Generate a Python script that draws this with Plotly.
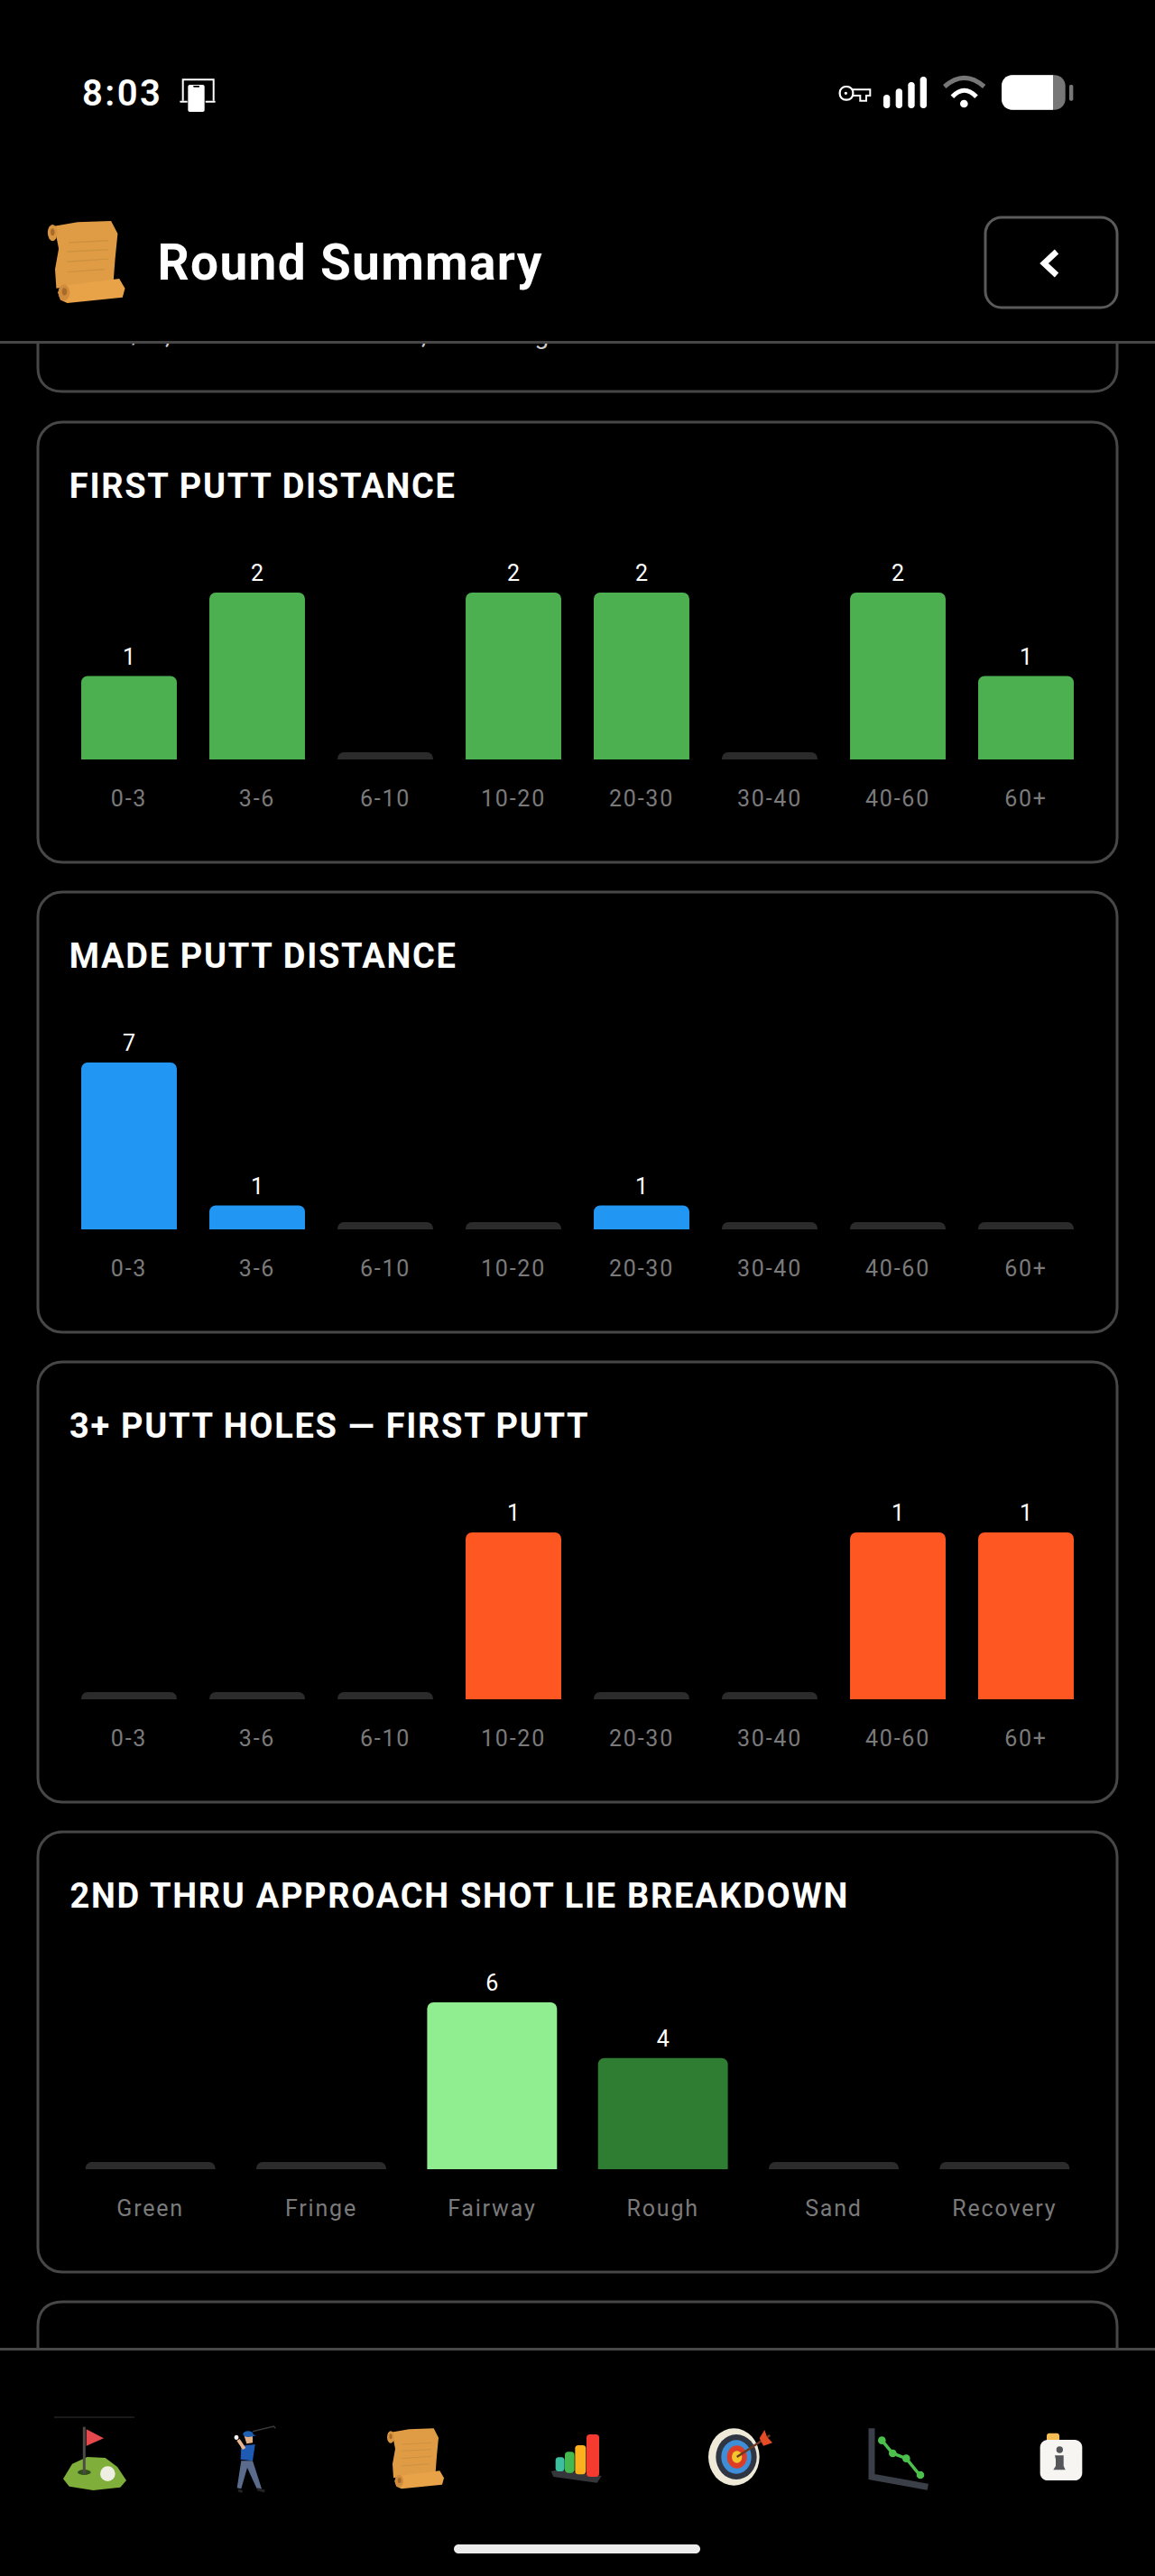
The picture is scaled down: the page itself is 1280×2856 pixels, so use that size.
import plotly.graph_objects as go

# chart data
putt_bins = ["0-3", "3-6", "6-10", "10-20", "20-30", "30-40", "40-60", "60+"]
first_putt = [1, 2, 0, 2, 2, 0, 2, 1]
made_putt = [7, 1, 0, 0, 1, 0, 0, 0]
three_putt = [0, 0, 0, 1, 0, 0, 1, 1]
lie_names = ["Green", "Fringe", "Fairway", "Rough", "Sand", "Recovery"]
lie_counts = [0, 0, 6, 4, 0, 0]
lie_colors = ["#2e7d32", "#2e7d32", "#90ee90", "#2e7d32", "#2e7d32", "#2e7d32"]

W, H = 1280, 2856
CARD = "#474747"
STUB = "#2b2b2b"
FONT = "Roboto"
BAR_PX = 185   # tallest bar in every card
STUB_PX = 8    # empty bins still get a small grey tab


def draw_chart(fig, n, baseline, cats, vals, colors, bar_w):
    top = max(vals)
    y = [v if v > 0 else top * STUB_PX / BAR_PX for v in vals]
    c = [colors[i] if vals[i] > 0 else STUB for i in range(len(vals))]
    txt = [str(v) if v > 0 else "" for v in vals]
    fig.add_trace(go.Bar(x=cats, y=y, width=bar_w, text=txt, textposition="outside", cliponaxis=False,
                         constraintext="none", textfont=dict(color="white", size=25, family=FONT),
                         marker=dict(color=c, cornerradius=7, line_width=0),
                         xaxis="x%d" % n, yaxis="y%d" % n, hoverinfo="skip", showlegend=False))
    fig.layout["xaxis%d" % n] = dict(domain=[72 / W, 1208 / W], anchor="y%d" % n, type="category",
                                     showgrid=False, zeroline=False, showline=False,
                                     ticks="outside", ticklen=21, tickcolor="rgba(0,0,0,0)",
                                     tickfont=dict(color="#7a7a7a", size=25, family=FONT), fixedrange=True)
    fig.layout["yaxis%d" % n] = dict(domain=[1 - baseline / H, 1 - (baseline - BAR_PX) / H],
                                     anchor="x%d" % n, range=[0, top], visible=False, fixedrange=True)


fig = go.Figure()

# 8 bin charts and the lie breakdown (cards repeat every 521px)
draw_chart(fig, 1, 842, putt_bins, first_putt, ["#4caf50"] * 8, 0.746)
draw_chart(fig, 2, 1363, putt_bins, made_putt, ["#2196f3"] * 8, 0.746)
draw_chart(fig, 3, 1884, putt_bins, three_putt, ["#ff5722"] * 8, 0.746)
draw_chart(fig, 4, 2405, lie_names, lie_counts, lie_colors, 0.76)

# page overlay in pixels, everything that is not a chart hangs off this
fig.add_trace(go.Scatter(x=[0], y=[0], mode="markers", marker_opacity=0, xaxis="x5", yaxis="y5",
                         hoverinfo="skip", showlegend=False))
fig.layout["xaxis5"] = dict(domain=[0, 1], range=[0, W], visible=False, anchor="y5", fixedrange=True)
fig.layout["yaxis5"] = dict(domain=[0, 1], range=[H, 0], visible=False, anchor="x5", fixedrange=True)

# the card above is scrolled under the header, so clip its last line
fig.add_trace(go.Scatter(x=[608], y=[388], mode="text", xaxis="x6", yaxis="y6", cliponaxis=True,
                         text=["+1/5, Around Green 1, Putting -on 1. Chase these numbers."],
                         textposition="top center", textfont=dict(color="#cccccc", size=28, family=FONT),
                         hoverinfo="skip", showlegend=False))
fig.layout["xaxis6"] = dict(domain=[0, 1], range=[0, W], visible=False, anchor="y6", fixedrange=True)
fig.layout["yaxis6"] = dict(domain=[1 - 430 / H, 1 - 381 / H], range=[430, 381], visible=False,
                            anchor="x6", fixedrange=True)

shapes = []


def add_path(d, fill=None, line=None, width=0):
    shapes.append(dict(type="path", path=d, xref="x5", yref="y5", layer="above",
                       fillcolor=fill if fill else "rgba(0,0,0,0)",
                       line=dict(color=line if line else "rgba(0,0,0,0)", width=width)))


def add_ellipse(cx, cy, rx, ry, fill):
    shapes.append(dict(type="circle", xref="x5", yref="y5", layer="above", x0=cx - rx, x1=cx + rx,
                       y0=cy - ry, y1=cy + ry, fillcolor=fill, line_width=0))


def round_rect(x0, y0, x1, y1, r):
    k = r * 0.45
    return ("M%g,%g L%g,%g C%g,%g %g,%g %g,%g L%g,%g C%g,%g %g,%g %g,%g L%g,%g C%g,%g %g,%g %g,%g L%g,%g C%g,%g %g,%g %g,%g Z"
            % (x0 + r, y0, x1 - r, y0, x1 - k, y0, x1, y0 + k, x1, y0 + r,
               x1, y1 - r, x1, y1 - k, x1 - k, y1, x1 - r, y1,
               x0 + r, y1, x0 + k, y1, x0, y1 - k, x0, y1 - r,
               x0, y0 + r, x0, y0 + k, x0 + k, y0, x0 + r, y0))


def poly(pts, ox=0, oy=0, s=1.0, closed=True):
    # points are in 3x crop coords, same numbers I read from the zooms
    d = " ".join(("M" if i == 0 else "L") + "%.1f,%.1f" % (ox + s * p[0] / 3, oy + s * p[1] / 3)
                 for i, p in enumerate(pts))
    return d + (" Z" if closed else "")


def z_rect(x0, y0, x1, y1, r, ox, oy, s=1.0):
    return round_rect(ox + s * x0 / 3, oy + s * y0 / 3, ox + s * x1 / 3, oy + s * y1 / 3, s * r / 3)


def z_ell(cx, cy, rx, ry, fill, ox, oy, s=1.0):
    add_ellipse(ox + s * cx / 3, oy + s * cy / 3, s * rx / 3, s * ry / 3, fill)


# cards
for top in [468, 989, 1510, 2031]:
    add_path(round_rect(42, top, 1238, top + 488, 27), line=CARD, width=3)
add_path("M42,381 L42,408 C42,424 52,434 69,434 L1211,434 C1228,434 1238,424 1238,408 L1238,381", line=CARD, width=3)
add_path("M42,2604 L42,2579 C42,2562 52,2552 69,2552 L1211,2552 C1228,2552 1238,2562 1238,2579 L1238,2604", line=CARD, width=3)
# header + tab bar rules
add_path("M0,379.5 L1280,379.5", line=CARD, width=3)
add_path("M0,2604.5 L1280,2604.5", line=CARD, width=3)
add_path("M60,2680 L149,2680", line="#222222", width=1.5)
# home bar
add_path(round_rect(503, 2821, 776, 2831, 5), fill="#ececec")
# back button
add_path(round_rect(1092, 241, 1238, 341, 18), line="#5a5a5a", width=3)
add_path("M1171,279 L1157,292 L1171,305", line="white", width=6.5)


def draw_scroll(ox, oy, s):
    add_path(poly([(60, 112), (130, 100), (212, 97), (228, 128), (222, 190), (218, 242), (100, 258),
                   (78, 262), (75, 215), (84, 165), (78, 135)], ox, oy, s), fill="#e09c45")
    for a, b in [((108, 150), (205, 145)), ((105, 172), (205, 167)), ((103, 197), (205, 190)), ((105, 222), (197, 215))]:
        add_path(poly([a, b], ox, oy, s, False), line="#cc9240", width=s)
    add_path(poly([(88, 256), (232, 238), (246, 262), (240, 284), (105, 298), (88, 290), (82, 272)], ox, oy, s),
             fill="#e8a248")
    z_ell(97, 272, 14, 20, "#d08c3c", ox, oy, s)
    z_ell(98, 270, 6, 9, "#a96b2a", ox, oy, s)
    z_ell(69, 126, 12, 20, "#d8953f", ox, oy, s)
    z_ell(69, 124, 5, 9, "#a96b2a", ox, oy, s)


# header scroll + nav scroll
draw_scroll(27, 201, 1.36)
draw_scroll(410, 2660, 1.0)

# nav: golf green
ox, oy = 30, 2660
add_path(poly([(120, 265), (150, 215), (200, 192), (260, 195), (300, 225), (330, 270), (310, 293), (220, 303), (140, 290)], ox, oy),
         fill="#7fae3a")
z_ell(190, 243, 22, 9, "#2f4f1c", ox, oy)
add_path(poly([(190, 92), (190, 248)], ox, oy, 1, False), line="#4d4a48", width=3)
add_path(poly([(197, 100), (255, 130), (197, 155)], ox, oy), fill="#e5484d")
z_ell(268, 248, 25, 25, "#eeeee2", ox, oy)

# nav: golfer
add_path(poly([(750, 107), (820, 90), (826, 97)], ox, oy, 1, False), line="#3a3a3a", width=1.5)
add_path(poly([(712, 205), (750, 205), (780, 298), (764, 298), (732, 228), (712, 298), (698, 295)], ox, oy), fill="#5b6b8c")
add_path(poly([(702, 303), (716, 308)], ox, oy, 1, False), line="#222222", width=3)
add_path(poly([(765, 299), (790, 306)], ox, oy, 1, False), line="#222222", width=3)
add_path(poly([(712, 155), (758, 150), (750, 205), (710, 200)], ox, oy), fill="#1e5bb5")
add_path(poly([(722, 122), (750, 122), (750, 145), (730, 148)], ox, oy), fill="#e2b088")
add_path(poly([(702, 135), (722, 165)], ox, oy, 1, False), line="#e8b58f", width=4)
z_ell(696, 127, 7, 8, "#f4f4f4", ox, oy)
z_ell(735, 116, 17, 10, "#1f5fb0", ox, oy)
add_path(poly([(745, 116), (762, 120), (745, 125)], ox, oy), fill="#1f5fb0")

# nav: bar chart icon
ox, oy = 410, 2660
add_path(poly([(602, 240), (625, 235), (770, 255), (755, 278), (610, 258)], ox, oy), fill="#34363a")
add_path(z_rect(617, 193, 647, 240, 10, ox, oy), fill="#3cbf9e")
add_path(z_rect(648, 175, 680, 245, 10, ox, oy), fill="#45b84f")
add_path(z_rect(682, 153, 718, 250, 10, ox, oy), fill="#fdb01e")
add_path(z_rect(720, 117, 762, 258, 10, ox, oy), fill="#f53b30")

# nav: target
ox, oy = 760, 2660
z_ell(160, 192, 85, 95, "#efe9d8", ox, oy)
z_ell(168, 192, 68, 75, "#2f3542", ox, oy)
z_ell(168, 192, 50, 56, "#3f8fd8", ox, oy)
z_ell(170, 192, 33, 38, "#dd3d26", ox, oy)
z_ell(170, 192, 17, 20, "#f2c62c", ox, oy)
add_path(poly([(170, 192), (280, 120)], ox, oy, 1, False), line="#6b3a20", width=2.5)
add_path(poly([(245, 130), (262, 102), (270, 125), (288, 145), (258, 155)], ox, oy), fill="#e54c25")

# nav: trend chart
add_path(poly([(618, 97), (618, 258), (805, 292)], ox, oy, 1, False), line="#3b3f48", width=7)
add_path(poly([(652, 137), (688, 180), (733, 197), (780, 255)], ox, oy, 1, False), line="#4cc04c", width=3.5)
for p in [(652, 137), (688, 180), (733, 197), (780, 252)]:
    z_ell(p[0], p[1], 13, 13, "#4cc04c", ox, oy)

# nav: info tile
ox, oy = 1020, 2660
add_path(z_rect(420, 113, 462, 145, 8, ox, oy), fill="#f8bc55")
add_path(z_rect(398, 135, 538, 270, 25, ox, oy), fill="#f6f5f1")
z_ell(463, 168, 11, 11, "#55565a", ox, oy)
add_path(poly([(447, 187), (476, 187), (476, 222), (482, 235), (442, 235), (450, 222), (450, 200)], ox, oy), fill="#55565a")

# status bar left icon
ox, oy = 80, 70
add_path(poly([(368, 125), (368, 55), (470, 55), (470, 125)], ox, oy, 1, False), line="white", width=2)
add_path(z_rect(385, 72, 440, 162, 6, ox, oy), fill="white")
add_path(z_rect(403, 75, 423, 80, 1, ox, oy), fill="black")
add_path(z_rect(358, 125, 383, 131, 1, ox, oy), fill="white")
add_path(z_rect(443, 125, 476, 131, 1, ox, oy), fill="white")

# status bar right side
ox, oy = 920, 70
add_path(poly([(72, 88), (133, 88), (133, 108), (120, 108), (120, 125), (100, 125), (100, 108), (72, 108)], ox, oy),
         line="white", width=2)
add_path(z_rect(32, 78, 76, 122, 20, ox, oy), fill="black", line="white", width=2.2)
z_ell(52, 100, 5, 5, "white", ox, oy)
for x, t in [(188, 105), (229, 85), (270, 63), (310, 45)]:
    add_path(z_rect(x - 11, t, x + 11, 150, 10, ox, oy), fill="white")
add_path("M%g,%g Q%g,%g %g,%g" % (ox + 380 / 3, oy + 78 / 3, ox + 446 / 3, oy + 20 / 3, ox + 512 / 3, oy + 78 / 3),
         line="#777777", width=5)
add_path("M%g,%g Q%g,%g %g,%g" % (ox + 406 / 3, oy + 112 / 3, ox + 446 / 3, oy + 70 / 3, ox + 486 / 3, oy + 112 / 3),
         line="white", width=5)
z_ell(445, 135, 13, 13, "white", ox, oy)
add_path(z_rect(570, 40, 782, 155, 36, ox, oy), fill="#777777")
add_path("M%g,%g L%g,%g L%g,%g L%g,%g C%g,%g %g,%g %g,%g L%g,%g C%g,%g %g,%g %g,%g Z"
         % (ox + 606 / 3, oy + 40 / 3, ox + 741 / 3, oy + 40 / 3, ox + 741 / 3, oy + 155 / 3, ox + 606 / 3, oy + 155 / 3,
            ox + 585 / 3, oy + 155 / 3, ox + 570 / 3, oy + 140 / 3, ox + 570 / 3, oy + 119 / 3,
            ox + 570 / 3, oy + 76 / 3, ox + 570 / 3, oy + 55 / 3, ox + 585 / 3, oy + 40 / 3,
            ox + 606 / 3, oy + 40 / 3), fill="white")
add_path(z_rect(795, 72, 808, 125, 5, ox, oy), fill="#777777")


def label(x, y, text, size, spacing, weight=700):
    # spacing comes in from the css after plotly placed the text, and it grows both
    # ways from the middle, so push the text right by half of what gets added
    return dict(x=x + len(text) * spacing / 2, y=y, xref="x5", yref="y5", text=text, showarrow=False,
                xanchor="left", yanchor="bottom", font=dict(family=FONT, size=size, color="white", weight=weight))


notes = [
    label(89, 129, "8:03", 40, 2.5, weight=600),
    label(173, 325, "Round Summary", 55, 1.3),
    label(75, 563, "FIRST PUTT DISTANCE", 38, 1.7),
    label(75, 1084, "MADE PUTT DISTANCE", 38, 1.7),
    label(75, 1605, "3+ PUTT HOLES — FIRST PUTT", 38, 1.7),
    label(75, 2126, "2ND THRU APPROACH SHOT LIE BREAKDOWN", 38, 1.7),
]

fig.update_layout(width=W, height=H, margin=dict(l=0, r=0, t=0, b=0), paper_bgcolor="black",
                  plot_bgcolor="rgba(0,0,0,0)", shapes=shapes, annotations=notes, showlegend=False,
                  font=dict(family=FONT))

# plotly has no letter-spacing option, so that part goes in a small stylesheet
page_css = """
var s = document.createElement('style');
s.textContent = 'body{margin:0;background:#000}'
  + '.xaxislayer-above text{letter-spacing:1.8px !important}'
  + '.annotation text{letter-spacing:1.7px !important}'
  + '.annotation[data-index="0"] text{letter-spacing:2.5px !important}'
  + '.annotation[data-index="1"] text{letter-spacing:1.3px !important}'
  + '.textpoint text{letter-spacing:4.9px !important}'
  + '.bartext{translate:0 -4px}';
document.head.appendChild(s);
"""
fig.write_html("out.html", post_script=page_css, config=dict(displayModeBar=False))
